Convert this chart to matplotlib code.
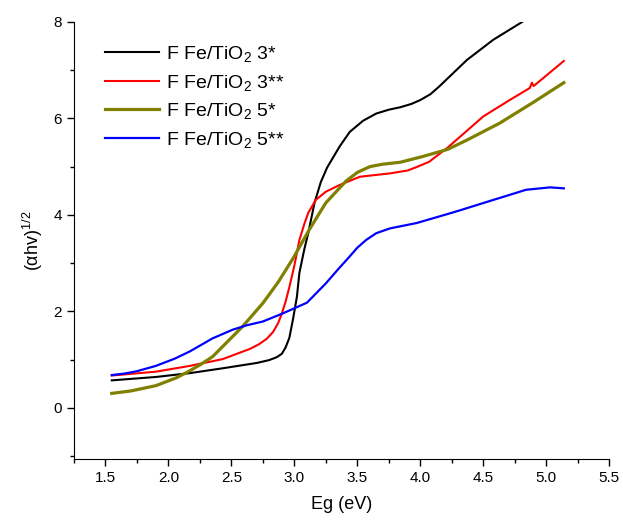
import matplotlib
matplotlib.use('Agg')
import matplotlib.pyplot as plt

plt.rcParams['font.family'] = ['Liberation Sans', 'DejaVu Sans']
plt.rcParams['mathtext.fontset'] = 'custom'
plt.rcParams['mathtext.rm'] = 'Liberation Sans'
plt.rcParams['mathtext.it'] = 'Liberation Sans:italic'

# values
black_x = [1.55, 1.9, 2.17, 2.43, 2.7, 2.8, 2.86, 2.9, 2.93, 2.96, 2.99, 3.02, 3.04, 3.08, 3.11,
           3.16, 3.21, 3.26, 3.31, 3.36, 3.44, 3.545, 3.65, 3.75, 3.84, 3.93, 4.0, 4.08, 4.15,
           4.37, 4.58, 4.81]
black_y = [0.57, 0.64, 0.72, 0.82, 0.93, 0.99, 1.05, 1.12, 1.25, 1.45, 1.85, 2.3, 2.8, 3.3, 3.62,
           4.25, 4.68, 4.98, 5.2, 5.42, 5.72, 5.95, 6.1, 6.18, 6.23, 6.3, 6.38, 6.5, 6.66,
           7.21, 7.63, 8.0]

red_x = [1.55, 1.9, 2.17, 2.43, 2.645, 2.72, 2.78, 2.83, 2.87, 2.9, 2.93, 2.96, 3.0, 3.04, 3.08,
         3.11, 3.17, 3.25, 3.36, 3.52, 3.76, 3.9, 3.97, 4.07, 4.22, 4.5, 4.71, 4.87, 4.886, 4.9,
         5.14]
red_y = [0.67, 0.75, 0.87, 1.01, 1.22, 1.32, 1.43, 1.57, 1.75, 1.95, 2.2, 2.5, 2.95, 3.48, 3.82,
         4.04, 4.31, 4.48, 4.62, 4.79, 4.86, 4.92, 4.99, 5.10, 5.4, 6.04, 6.38, 6.63, 6.74, 6.67,
         7.19]

olive_x = [1.55, 1.7, 1.9, 2.06, 2.15, 2.25, 2.35, 2.43, 2.59, 2.75, 2.87, 2.99, 3.12, 3.25,
           3.41, 3.5, 3.6, 3.7, 3.84, 4.02, 4.22, 4.37, 4.63, 4.89, 5.14]
olive_y = [0.30, 0.35, 0.46, 0.62, 0.74, 0.89, 1.06, 1.27, 1.69, 2.17, 2.6, 3.1, 3.7, 4.25,
           4.7, 4.88, 5.0, 5.05, 5.09, 5.21, 5.36, 5.55, 5.90, 6.32, 6.74]

blue_x = [1.55, 1.65, 1.75, 1.9, 2.05, 2.17, 2.35, 2.51, 2.62, 2.75, 2.91, 3.1, 3.25, 3.35,
          3.44, 3.5, 3.57, 3.65, 3.76, 3.97, 4.22, 4.31, 4.58, 4.84, 5.03, 5.14]
blue_y = [0.68, 0.71, 0.76, 0.87, 1.02, 1.17, 1.44, 1.62, 1.71, 1.79, 1.96, 2.18, 2.58, 2.88,
          3.14, 3.32, 3.48, 3.62, 3.72, 3.83, 4.02, 4.09, 4.31, 4.52, 4.57, 4.55]

labels = ['F Fe/TiO$_2$ 3*', 'F Fe/TiO$_2$ 3**', 'F Fe/TiO$_2$ 5*', 'F Fe/TiO$_2$ 5**']

fig = plt.figure(figsize=(6.23, 5.21), dpi=100)
ax = fig.add_axes([0.1188, 0.119, 0.859, 0.839])

ax.plot(black_x, black_y, color='black', lw=1.5, label=labels[0])
ax.plot(red_x, red_y, color='#ff0000', lw=1.5, label=labels[1])
ax.plot(olive_x, olive_y, color='#808000', lw=2.3, label=labels[2])
ax.plot(blue_x, blue_y, color='#0000ff', lw=1.6, label=labels[3])

ax.set_xlim(1.25, 5.5)
ax.set_ylim(-1.06, 8)
ax.set_xticks([1.5, 2.0, 2.5, 3.0, 3.5, 4.0, 4.5, 5.0, 5.5])
ax.set_xticks([1.25, 1.75, 2.25, 2.75, 3.25, 3.75, 4.25, 4.75, 5.25], minor=True)
ax.set_yticks([0, 2, 4, 6, 8])
ax.set_yticks([-1, 1, 3, 5, 7], minor=True)
ax.tick_params(which='major', direction='out', length=5, width=1, labelsize=11)
ax.tick_params(which='minor', direction='out', length=3, width=1)
for s in ['top', 'right']:
    ax.spines[s].set_visible(False)

ax.set_xlabel('Eg (eV)', fontsize=13, labelpad=8)
ax.set_ylabel('(αhv)$^{1/2}$', fontsize=13, labelpad=6)

ax.legend(loc='upper left', bbox_to_anchor=(0.025, 0.99), frameon=False, fontsize=14,
          handlelength=2.8, handletextpad=0.35, labelspacing=0.45)

plt.savefig('out.png', dpi=100)
